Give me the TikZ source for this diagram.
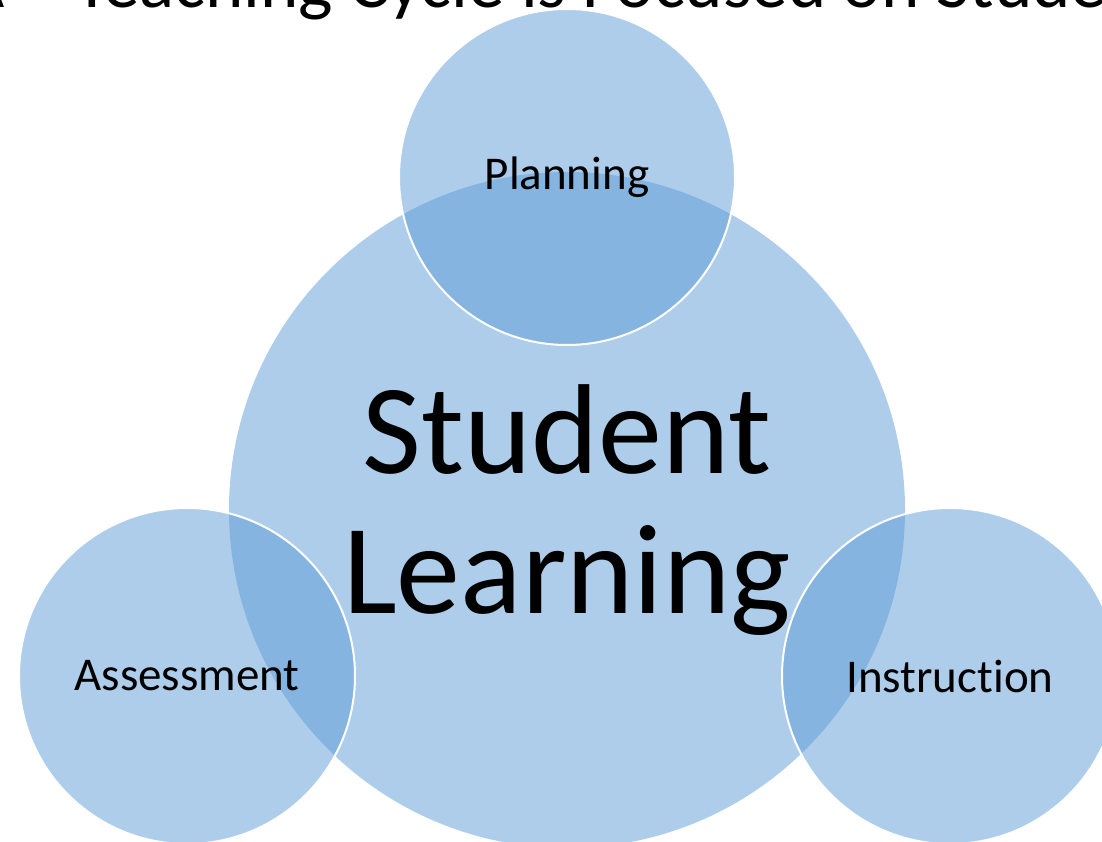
\documentclass[tikz,border=0pt]{standalone}
\usepackage{fontspec}
\setmainfont{Carlito}[Ligatures=NoCommon]
\definecolor{cycleblue}{HTML}{5B9BD5}
\tikzset{
  stage/.style={circle, fill=cycleblue, fill opacity=.5, text opacity=1,
    draw=white, line width=2pt, minimum size=336pt, inner sep=0pt,
    font=\fontsize{47}{56}\selectfont},
  core/.style={stage, draw=none, minimum size=676pt, align=center,
    font=\fontsize{128}{140}\selectfont},
}
\begin{document}
\begin{tikzpicture}[x=1pt, y=-1pt]

  \useasboundingbox (0,0) rectangle (1102,842);
  \clip (0,0) rectangle (1102,842);

  % Title (cut off by the top edge)
  \node[anchor=base west, inner sep=0pt, font=\fontsize{73}{88}\selectfont]
    (title) at (-37.6,8) {A – Teaching Cycle is Focused on Student Learning};

  % Define nodes
  \node[core]  (learning)    at (567,510) {Student\\Learning};
  \node[stage] (planning)    at (567,177) {Planning};
  \node[stage] (assessment)  at (187,676) {Assessment};
  \node[stage] (instruction) at (950,676) {Instruction};

\end{tikzpicture}
\end{document}
